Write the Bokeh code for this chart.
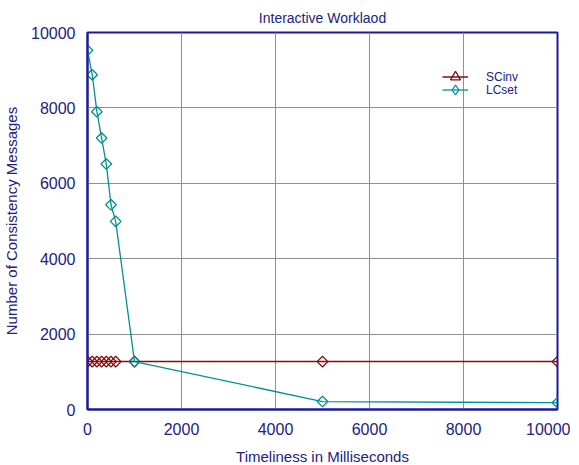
import math
from bokeh.plotting import figure
from bokeh.models import ColumnDataSource, Legend, LegendItem, FixedTicker, Range1d
from bokeh.embed import file_html
from bokeh.resources import INLINE

# ---- data ----
timeliness_ms = [0, 100, 200, 300, 400, 500, 600, 1000, 5000, 10000]
scinv_msgs = [1270, 1270, 1270, 1270, 1270, 1270, 1270, 1270, 1270, 1270]
lcset_msgs = [9530, 8880, 7900, 7200, 6510, 5430, 4990, 1270, 210, 180]
x_ticks = [0, 2000, 4000, 6000, 8000, 10000]
y_ticks = [0, 2000, 4000, 6000, 8000, 10000]
title_text = "Interactive Worklaod"

NAVY_TXT = "#22227f"
NAVY_AX = "#1a1a9a"
RED = "#8b0a0a"
TEAL = "#009090"
FONT = "Liberation Sans"

src = ColumnDataSource(dict(x=timeliness_ms, sc=scinv_msgs, lc=lcset_msgs))
legend_only = ColumnDataSource(dict(x=[float("nan")], y=[float("nan")]))

p = figure(frame_width=470, frame_height=377, output_backend="svg", toolbar_location=None,
           x_range=Range1d(0, 10000), y_range=Range1d(0, 10000),
           min_border_left=78, min_border_right=13, min_border_bottom=44, min_border_top=30)

p.title.text = title_text
p.title.align = "center"
p.title.text_font = FONT
p.title.text_font_size = "14px"
p.title.text_font_style = "normal"
p.title.text_color = NAVY_TXT
p.title.offset = 0
p.title.standoff = 14

for ax, ticks in ((p.xaxis, x_ticks), (p.yaxis, y_ticks)):
    ax.ticker = FixedTicker(ticks=ticks)
    ax.axis_line_color = NAVY_AX
    ax.axis_line_width = 2
    ax.major_tick_out = 0
    ax.major_tick_in = 0
    ax.minor_tick_out = 0
    ax.minor_tick_in = 0
    ax.major_label_text_font = FONT
    ax.major_label_text_font_size = "16px"
    ax.major_label_text_color = NAVY_TXT
    ax.axis_label_text_font = FONT
    ax.axis_label_text_font_size = "15px"
    ax.axis_label_text_font_style = "normal"
    ax.axis_label_text_color = NAVY_TXT

p.xaxis.axis_label = "Timeliness in Milliseconds"
p.yaxis.axis_label = "Number of Consistency Messages"
p.xaxis.major_label_standoff = 13
p.yaxis.major_label_standoff = 12
p.xaxis.axis_label_standoff = 10
p.yaxis.axis_label_standoff = 8

p.grid.grid_line_color = "#909090"
p.grid.grid_line_width = 1
p.xgrid.ticker = FixedTicker(ticks=x_ticks)
p.ygrid.ticker = FixedTicker(ticks=y_ticks)

p.outline_line_color = NAVY_AX
p.outline_line_width = 2
p.outline_line_alpha = 1
p.background_fill_color = "white"
p.border_fill_color = "white"

ANG = math.pi / 4
sc_line = p.line("x", "sc", source=src, line_color=RED, line_width=1.5)
p.scatter("x", "sc", source=src, marker="square", angle=ANG, size=7.5, line_color=RED,
          line_width=1.3, fill_alpha=0)
lc_line = p.line("x", "lc", source=src, line_color=TEAL, line_width=1.3)
p.scatter("x", "lc", source=src, marker="square", angle=ANG, size=7.5,
          line_color=TEAL, line_width=1.3, fill_alpha=0)

# legend-only glyphs (no visible data)
sc_tri = p.scatter("x", "y", source=legend_only, marker="triangle", size=10,
                   line_color=RED, line_width=1.3, fill_alpha=0)
lc_dia = p.scatter("x", "y", source=legend_only, marker="diamond", size=10,
                   line_color=TEAL, line_width=1.3, fill_alpha=0)

common = dict(orientation="vertical", border_line_alpha=0, background_fill_alpha=0,
              padding=0, margin=0, spacing=0,
              glyph_width=26, glyph_height=25, label_height=14, label_standoff=18,
              label_text_font=FONT, label_text_font_size="12px",
              label_text_color=NAVY_TXT)
leg1 = Legend(items=[LegendItem(label="SCinv", renderers=[sc_line, sc_tri])],
              location=(355, 320), **common)
leg2 = Legend(items=[LegendItem(label="LCset", renderers=[lc_line, lc_dia])],
              location=(355, 307), **common)
p.add_layout(leg1)
p.add_layout(leg2)

open("out.html", "w").write(file_html(p, INLINE))
